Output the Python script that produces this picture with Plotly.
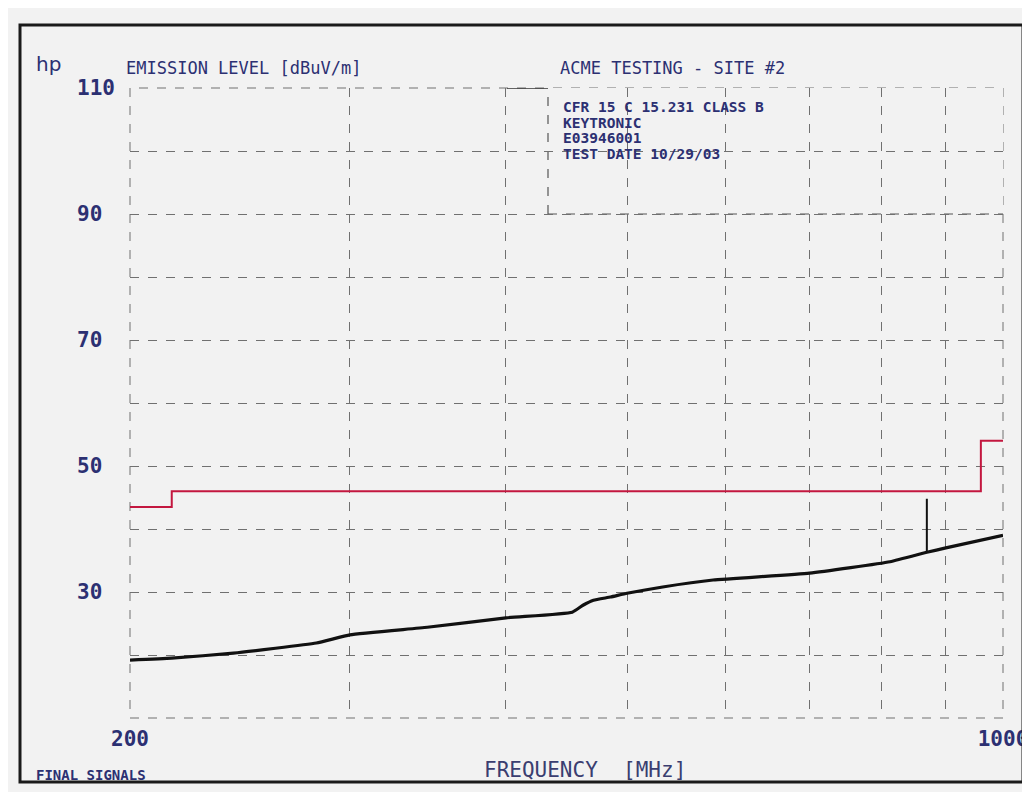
import math
import plotly.graph_objects as go

# ---- data ----
meas_freq_mhz = [200, 216, 242, 282, 300, 346, 400, 452, 461, 470, 485, 500, 534, 586, 700, 812, 869, 900, 1000]
meas_level_db = [19.2, 19.5, 20.3, 21.9, 23.2, 24.4, 25.9, 26.8, 27.9, 28.7, 29.2, 29.8, 30.8, 31.9, 33.0, 34.8, 36.3, 37.0, 39.0]

limit_freq_mhz = [200, 216, 960, 1000]
limit_level_db = [43.5, 46.0, 54.0, 54.0]

peak_freq_mhz = [869, 869]
peak_level_db = [36.3, 44.8]

x_tick_vals = [200, 300, 400, 500, 600, 700, 800, 900, 1000]
x_tick_text = ["200", "", "", "", "", "", "", "", "1000"]
y_tick_vals = [10, 20, 30, 40, 50, 60, 70, 80, 90, 100, 110]
y_tick_text = ["", "", "30\u00a0", "", "50\u00a0", "", "70\u00a0", "", "90\u00a0", "", "110"]

box_lines = ["CFR 15 C 15.231 CLASS B", "KEYTRONIC", "E03946001", "TEST DATE 10/29/03"]

# ---- style ----
BG = "#f2f2f2"
INK = "#2c3072"
FONT = "DejaVu Sans Mono"
GRID = "#707070"

fig = go.Figure()
fig.add_trace(go.Scatter(x=limit_freq_mhz, y=limit_level_db, mode="lines",
                         line=dict(color="#c3173f", width=2, shape="hv"),
                         showlegend=False, hoverinfo="skip"))
fig.add_trace(go.Scatter(x=meas_freq_mhz, y=meas_level_db, mode="lines",
                         line=dict(color="#111111", width=3.2, shape="spline", smoothing=0.4),
                         showlegend=False))
fig.add_trace(go.Scatter(x=peak_freq_mhz, y=peak_level_db, mode="lines",
                         line=dict(color="#111111", width=2),
                         showlegend=False))

# page offset of the figure inside the browser page (default body margin)
OFF = 8
W, H = 1030 - OFF, 792 - OFF
# desired plot area in page pixels: x 130..1003, y 88..718
L, R, T, B = 130 - OFF, W - (1003 - OFF), 88 - OFF, H - (718 - OFF)
pw, ph = W - L - R, H - T - B

def px(xpage):
    return (xpage - OFF - L) / pw

def py(ypage):
    return (H - B - (ypage - OFF)) / ph

fig.update_layout(
    width=W, height=H,
    margin=dict(l=L, r=R, t=T, b=B, pad=0, autoexpand=False),
    paper_bgcolor=BG, plot_bgcolor=BG,
    font=dict(family=FONT, color=INK),
    xaxis=dict(type="log", range=[math.log10(200), math.log10(1000)],
               tickmode="array", tickvals=x_tick_vals, ticktext=x_tick_text,
               showgrid=True, gridcolor=GRID, gridwidth=1, griddash="dash",
               zeroline=False, showline=False, ticks="", automargin=False,
               ticklabelstandoff=6,
               tickfont=dict(family=FONT, size=21, color=INK, weight="bold")),
    yaxis=dict(range=[10, 110], tickmode="array", tickvals=y_tick_vals, ticktext=y_tick_text,
               showgrid=True, gridcolor=GRID, gridwidth=1, griddash="dash",
               zeroline=False, showline=False, ticks="", automargin=False,
               ticklabelstandoff=14,
               tickfont=dict(family=FONT, size=21, color=INK, weight="bold")),
)

box_left = px(548)
shapes = [
    # plot-area border (dashed like the grid)
    dict(type="rect", xref="paper", yref="paper", x0=0, x1=1, y0=0, y1=1,
         line=dict(color=GRID, width=1, dash="dash"), layer="below"),
    # info box masking the grid
    dict(type="rect", xref="paper", yref="y", x0=box_left, x1=1, y0=90, y1=110,
         fillcolor=BG, line=dict(width=0), layer="between"),
    dict(type="line", xref="paper", yref="y", x0=box_left, x1=box_left, y0=90, y1=110,
         line=dict(color="#555555", width=1.2, dash="dash"), layer="between"),
    dict(type="line", xref="paper", yref="y", x0=box_left, x1=1, y0=90, y1=90,
         line=dict(color="#555555", width=1.2, dash="dash"), layer="between"),
    dict(type="line", xref="paper", yref="y", x0=px(507), x1=box_left, y0=110, y1=110,
         line=dict(color="#333333", width=1.6), layer="between"),
    # outer page frame
    dict(type="rect", xref="paper", yref="paper", x0=px(20), x1=px(1023), y0=py(782), y1=py(25),
         line=dict(color="#1a1a1a", width=3)),
]
fig.update_layout(shapes=shapes)

ann = []
ann.append(dict(text="hp", x=px(34), y=py(64), xref="paper", yref="paper",
                xanchor="left", yanchor="middle", showarrow=False,
                font=dict(family="DejaVu Sans", size=20, color=INK)))
ann.append(dict(text="EMISSION LEVEL [dBuV/m]", x=px(124), y=py(68), xref="paper", yref="paper",
                xanchor="left", yanchor="middle", showarrow=False,
                font=dict(family=FONT, size=17, color=INK)))
ann.append(dict(text="ACME TESTING - SITE #2", x=px(558), y=py(68), xref="paper", yref="paper",
                xanchor="left", yanchor="middle", showarrow=False,
                font=dict(family=FONT, size=17, color=INK)))
for i, line in enumerate(box_lines):
    ann.append(dict(text=line, x=px(561), y=py(107 + 15.6 * i), xref="paper", yref="paper",
                    xanchor="left", yanchor="middle", showarrow=False,
                    font=dict(family=FONT, size=14.5, color=INK, weight="bold")))
ann.append(dict(text="FREQUENCY\u00a0 [MHz]", x=px(585), y=py(770), xref="paper", yref="paper",
                xanchor="center", yanchor="middle", showarrow=False,
                font=dict(family=FONT, size=21, color="#3a3e70")))
ann.append(dict(text="FINAL SIGNALS", x=px(34), y=py(775), xref="paper", yref="paper",
                xanchor="left", yanchor="middle", showarrow=False,
                font=dict(family=FONT, size=14, color=INK, weight="bold")))
fig.update_layout(annotations=ann)

fig.write_html("out.html")
